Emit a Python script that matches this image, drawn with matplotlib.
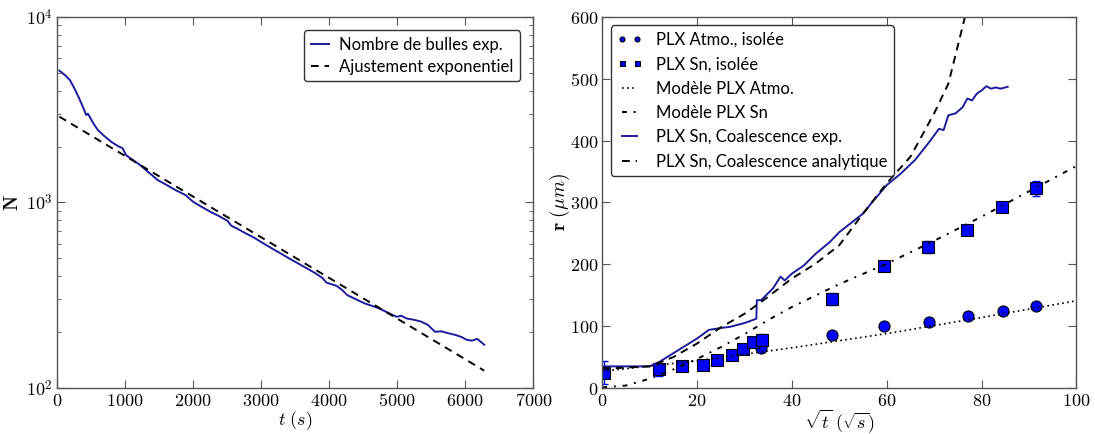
import numpy as np
import matplotlib
matplotlib.use("Agg")
import matplotlib.pyplot as plt
from matplotlib.ticker import FuncFormatter, FixedLocator, LogLocator, NullFormatter

# ---- left panel: number of bubbles vs time
t_exp = [36, 120, 190, 260, 330, 400, 430, 455, 480, 540, 600, 705, 800, 900,
         965, 1015, 1120, 1220, 1350, 1480, 1600, 1740, 1890, 2000, 2120,
         2254, 2380, 2510, 2560, 2640, 2770, 2900, 3030, 3160, 3285, 3410,
         3540, 3670, 3800, 3900, 3960, 4110, 4190, 4265, 4400, 4520, 4620,
         4730, 4860, 4990, 5060, 5140, 5250, 5350, 5450, 5555, 5650, 5760,
         5860, 5950, 6020, 6100, 6175, 6240, 6280]
n_exp = [5140, 4850, 4570, 4100, 3620, 3155, 2960, 3010, 2900, 2650, 2460,
         2265, 2120, 2010, 1960, 1800, 1690, 1594, 1450, 1321, 1250, 1167,
         1096, 1009, 950, 891, 845, 795, 750, 725, 683, 645, 603, 565, 532,
         500, 470, 442, 415, 392, 370, 355, 338, 317, 300, 286, 278, 269,
         255, 242, 245, 237, 233, 228, 219, 201, 202, 197, 193, 188, 182,
         180, 184, 176, 171]
t_fit = [36, 6280]
n_fit = [2900, 124]

# ---- right panel: bubble radius vs sqrt(t)
atmo_x = [33.5, 48.4, 59.4, 68.9, 77.1, 84.6, 91.5]
atmo_r = [64, 85, 99.5, 107, 117, 125, 132]

sn_x = [0.3, 11.9, 16.8, 21.2, 24.2, 27.4, 29.7, 31.9, 33.6, 48.4, 59.4,
        68.8, 77.0, 84.4, 91.4]
sn_r = [25, 30, 36, 37, 46, 54, 63, 75, 77, 144, 198, 228, 255, 292, 323]
sn_err = [18, 10, 7, 4, 3, 3, 3, 4, 10, 10, 5, 10, 8, 4, 12]

mod_atmo_x = [0, 20, 40, 60, 80, 100]
mod_atmo_r = [27, 44, 65, 88, 114, 141]

mod_sn_x = [0, 5, 10, 15, 20, 25, 30, 35, 40, 50, 60, 70, 80, 90, 100]
mod_sn_r = [1, 4, 15, 30, 47, 66, 87, 110, 131, 168, 201, 238, 277, 318, 359]

coal_x = [0, 10, 12, 16, 20, 22.5, 25, 27, 30, 32.5, 32.6, 33.5, 36, 37.6,
          38.5, 40, 42.5, 45, 48, 50, 53, 55, 57, 60, 63, 66, 69, 71, 72, 73,
          74.5, 76, 77, 78, 79, 80, 81, 82, 83, 84, 85.5]
coal_r = [35, 35, 42, 61, 80, 94, 97, 99, 105, 112, 142, 142, 161, 180, 174,
          185, 198, 217, 236, 252, 270, 282, 301, 328, 347, 369, 398, 419, 417,
          441, 444, 454, 468, 465, 476, 481, 488, 484, 486, 484, 487]

ana_x = [0, 10, 15, 20, 25, 30, 33.5, 40, 45, 50, 55, 60, 65, 70, 73, 76.5, 78]
ana_r = [31, 35, 50, 72, 98, 120, 139, 177, 201, 231, 282, 331, 374, 444, 492,
         600, 640]

plt.rcParams["mathtext.fontset"] = "cm"
legend_font = {"family": "Lato", "size": 12}
frame_col = "#555555"
line_blue = "#1c1c9c"


def math_int(v, pos):
    return r"$%d$" % int(round(v))


def style_axes(ax):
    for s in ax.spines.values():
        s.set_color(frame_col)
        s.set_linewidth(1.0)
    ax.tick_params(which="both", direction="in", top=True, right=True,
                   color=frame_col, labelsize=13, pad=3)
    ax.tick_params(which="major", length=6)
    ax.tick_params(which="minor", length=3)


fig = plt.figure(figsize=(10.95, 4.34), dpi=100)
ax1 = fig.add_axes([0.052, 0.106, 0.435, 0.855])
ax2 = fig.add_axes([0.550, 0.106, 0.433, 0.855])

# left
ax1.plot(t_exp, n_exp, color=line_blue, lw=1.4, label="Nombre de bulles exp.")
ax1.plot(t_fit, n_fit, color="black", lw=1.4, linestyle=(0, (4, 3)),
         label="Ajustement exponentiel")
ax1.set_yscale("log")
ax1.set_xlim(0, 7000)
ax1.set_ylim(100, 10000)
ax1.xaxis.set_major_locator(FixedLocator(range(0, 7001, 1000)))
ax1.xaxis.set_major_formatter(FuncFormatter(math_int))
ax1.yaxis.set_major_locator(FixedLocator([100, 1000, 10000]))
ax1.yaxis.set_major_formatter(
    FuncFormatter(lambda v, p: r"$10^{%d}$" % int(round(np.log10(v)))))
ax1.yaxis.set_minor_locator(LogLocator(base=10, subs=np.arange(2, 10)))
ax1.yaxis.set_minor_formatter(NullFormatter())
style_axes(ax1)
ax1.set_xlabel(r"$t\ (s)$", fontsize=13)
ax1.xaxis.set_label_coords(0.5, -0.058)
ax1.set_ylabel(r"$\mathbf{N}$", fontsize=14)
ax1.yaxis.set_label_coords(-0.074, 0.5)
ax1.legend(loc="upper right", prop=legend_font, fancybox=True,
           framealpha=1, edgecolor="#333333", handlelength=1.1,
           handletextpad=0.6, borderaxespad=0.8, labelspacing=0.35)

# right
ax2.errorbar(sn_x, sn_r, yerr=sn_err, fmt="none", ecolor="blue",
             elinewidth=1.0, capsize=3)
ax2.plot(atmo_x, atmo_r, "o", color="blue", mec="black", mew=0.8, ms=8,
         label="PLX Atmo., isolée")
ax2.plot(sn_x, sn_r, "s", color="blue", mec="black", mew=0.8, ms=8,
         label="PLX Sn, isolée")
ax2.plot(mod_atmo_x, mod_atmo_r, color="black", lw=1.2, linestyle=(0, (1, 2)),
         label="Modèle PLX Atmo.")
ax2.plot(mod_sn_x, mod_sn_r, color="black", lw=1.4,
         linestyle=(0, (2.5, 3.5, 1, 3.5)), label="Modèle PLX Sn")
ax2.plot(coal_x, coal_r, color=line_blue, lw=1.4,
         label="PLX Sn, Coalescence exp.")
ax2.plot(ana_x, ana_r, color="black", lw=1.4, linestyle=(0, (4, 3)),
         label="PLX Sn, Coalescence analytique")
ax2.set_xlim(0, 100)
ax2.set_ylim(0, 600)
ax2.xaxis.set_major_locator(FixedLocator(range(0, 101, 20)))
ax2.yaxis.set_major_locator(FixedLocator(range(0, 601, 100)))
ax2.xaxis.set_major_formatter(FuncFormatter(math_int))
ax2.yaxis.set_major_formatter(FuncFormatter(math_int))
style_axes(ax2)
ax2.set_xlabel(r"$\sqrt{t}\ (\sqrt{s})$", fontsize=13)
ax2.xaxis.set_label_coords(0.5, -0.052)
ax2.set_ylabel(r"$\mathbf{r}\ (\mu m)$", fontsize=14)
ax2.yaxis.set_label_coords(-0.064, 0.5)
ax2.legend(loc="upper left", prop=legend_font, fancybox=True, framealpha=1,
           edgecolor="#333333", numpoints=2, markerscale=0.45,
           handlelength=1.5, handletextpad=0.8, borderaxespad=0.5,
           labelspacing=0.5)

fig.savefig("out.png", dpi=100)
